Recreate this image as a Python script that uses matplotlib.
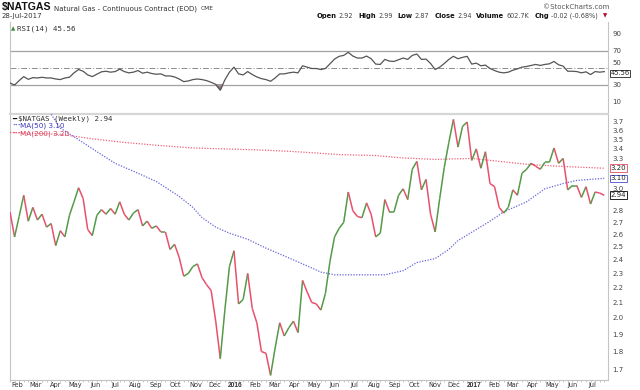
import numpy as np
import pandas as pd
import matplotlib
matplotlib.use("Agg")
import matplotlib.pyplot as plt
import matplotlib.dates as mdates
from matplotlib.collections import LineCollection
from matplotlib.offsetbox import TextArea, HPacker, AnchoredOffsetbox
from matplotlib.ticker import FixedLocator, NullLocator

# ---- data ----
first_week = "2015-01-30"
last_week = "2017-07-28"

close = [
    2.79, 2.58, 2.75, 2.94, 2.71, 2.83, 2.72, 2.77, 2.66, 2.69,
    2.51, 2.63, 2.58, 2.76, 2.88, 3.01, 2.91, 2.64, 2.59, 2.76,
    2.81, 2.77, 2.82, 2.77, 2.88, 2.77, 2.72, 2.78, 2.81, 2.67,
    2.71, 2.65, 2.67, 2.62, 2.62, 2.48, 2.52, 2.42, 2.28, 2.30,
    2.35, 2.37, 2.27, 2.22, 2.18, 1.98, 1.76, 2.05, 2.35, 2.47,
    2.09, 2.12, 2.30, 2.06, 1.97, 1.80, 1.79, 1.67, 1.82, 1.97,
    1.89, 1.94, 1.98, 1.91, 2.25, 2.17, 2.10, 2.09, 2.05, 2.16,
    2.39, 2.58, 2.65, 2.70, 2.97, 2.80, 2.75, 2.74, 2.87, 2.77,
    2.58, 2.61, 2.90, 2.79, 2.79, 2.94, 3.00, 2.90, 3.19, 3.27,
    2.99, 3.09, 2.77, 2.62, 2.91, 3.21, 3.47, 3.73, 3.42, 3.65,
    3.70, 3.28, 3.40, 3.20, 3.37, 3.05, 3.02, 2.83, 2.78, 2.83,
    2.99, 2.94, 3.15, 3.19, 3.25, 3.22, 3.19, 3.26, 3.26, 3.41,
    3.25, 3.30, 2.99, 3.03, 3.03, 2.92, 3.02, 2.86, 2.97, 2.96,
    2.94,
]

rsi = [
    32.2, 29.8, 35.0, 39.7, 36.5, 38.5, 38.1, 38.9, 38.1, 38.1,
    36.9, 36.2, 38.1, 38.9, 44.1, 48.0, 46.0, 41.7, 39.7, 42.5,
    45.3, 46.0, 44.9, 45.6, 48.4, 45.6, 44.1, 44.9, 46.8, 43.7,
    44.9, 43.3, 42.5, 42.9, 40.5, 40.5, 39.3, 36.9, 33.8, 34.6,
    36.2, 36.9, 36.2, 35.0, 33.0, 30.6, 23.9, 35.8, 44.9, 50.8,
    42.9, 41.7, 45.6, 42.1, 39.3, 37.3, 36.2, 34.2, 38.1, 42.9,
    42.9, 44.1, 44.9, 44.1, 52.4, 50.8, 49.2, 49.2, 48.0, 49.2,
    54.7, 60.3, 63.5, 64.6, 68.2, 63.8, 61.5, 61.5, 63.8, 60.7,
    54.4, 54.0, 59.9, 57.9, 57.5, 59.5, 61.5, 59.9, 64.6, 66.2,
    59.9, 60.3, 55.1, 48.0, 50.8, 55.1, 59.9, 63.5, 60.7, 62.3,
    63.5, 54.4, 55.5, 52.4, 53.2, 49.2, 46.8, 44.9, 44.1, 44.9,
    47.2, 48.8, 50.8, 51.6, 52.8, 54.0, 52.8, 54.0, 54.7, 57.5,
    53.6, 52.0, 46.0, 46.0, 45.6, 44.1, 45.3, 42.1, 45.6, 44.9,
    45.56,
]

ma50_dates = ["2015-04-03", "2015-04-17", "2015-05-15", "2015-06-19", "2015-07-10",
              "2015-08-14", "2015-09-11", "2015-10-16", "2015-11-06", "2015-11-20",
              "2015-12-11", "2016-01-01", "2016-01-29", "2016-02-26", "2016-03-25",
              "2016-04-22", "2016-05-20", "2016-06-10", "2016-07-15", "2016-08-26",
              "2016-09-23", "2016-10-14", "2016-11-11", "2016-12-02", "2016-12-16",
              "2017-01-13", "2017-02-03", "2017-02-24", "2017-03-31", "2017-04-28",
              "2017-05-26", "2017-06-16", "2017-07-28"]
ma50_vals = [3.79, 3.63, 3.50, 3.34, 3.25, 3.15, 3.07, 2.93, 2.83, 2.74,
             2.66, 2.61, 2.56, 2.49, 2.43, 2.37, 2.31, 2.29, 2.29, 2.29,
             2.32, 2.38, 2.41, 2.48, 2.55, 2.64, 2.71, 2.79, 2.88, 3.00,
             3.05, 3.08, 3.10]

ma200_dates = ["2015-01-30", "2015-04-17", "2015-06-05", "2015-07-24", "2015-09-11",
               "2015-11-06", "2015-12-25", "2016-02-12", "2016-04-01", "2016-05-06",
               "2016-06-17", "2016-08-12", "2016-09-23", "2016-11-11", "2017-01-06",
               "2017-02-03", "2017-03-31", "2017-05-19", "2017-07-28"]
ma200_vals = [3.58, 3.56, 3.51, 3.47, 3.44, 3.41, 3.40, 3.39, 3.375, 3.36,
              3.34, 3.33, 3.305, 3.29, 3.30, 3.28, 3.24, 3.22, 3.20]

price_ticks = [1.7, 1.8, 1.9, 2.0, 2.1, 2.2, 2.3, 2.4, 2.5, 2.6, 2.7, 2.8, 2.9,
               3.0, 3.1, 3.2, 3.3, 3.4, 3.5, 3.6, 3.7]
hidden_ticks = [2.9, 3.1, 3.2]   # sit under the value boxes
rsi_ticks = [10, 30, 50, 70, 90]
month_names = ["Jan", "Feb", "Mar", "Apr", "May", "Jun", "Jul", "Aug",
               "Sep", "Oct", "Nov", "Dec"]

GREEN = "#559a47"
RED = "#e8506e"
BLUE = "#6464dc"
PINK = "#ee6077"
FRAME = "#c4c4c4"

dates = pd.date_range(first_week, last_week, freq="7D")
xd = mdates.date2num(dates)
x_left = xd[0]
x_right = xd[-1] + 5.7

fig = plt.figure(figsize=(6.4, 3.9), dpi=100)
ax_r = fig.add_axes([10 / 640, 1 - 114 / 390, 598 / 640, 92 / 390])
ax = fig.add_axes([10 / 640, 1 - 380 / 390, 598 / 640, 266 / 390])

# ---- RSI panel ----
r = np.array(rsi)
ax_r.plot(xd, r, color="#555555", lw=0.9, zorder=3)
ax_r.fill_between(xd, r, 30, where=r < 30, interpolate=True, color="#a07a80", zorder=2)
ax_r.axhline(70, color="#a0a0a0", lw=0.9)
ax_r.axhline(30, color="#a0a0a0", lw=0.9)
ax_r.axhline(50, color="#8c8c8c", lw=0.7, ls=(0, (6, 2, 1, 2)))
ax_r.set_xlim(x_left, x_right)
ax_r.set_ylim(-4.2, 103.8)
ax_r.yaxis.tick_right()
ax_r.set_yticks(rsi_ticks)
# "50" is drawn by hand a little higher so it peeks out above the value box
ax_r.set_yticklabels(["" if t == 50 else str(t) for t in rsi_ticks])
ax_r.tick_params(axis="y", length=0, pad=3, labelsize=5, labelcolor="#444444")
ax_r.set_xticks([])
for s in ["top", "bottom"]:
    ax_r.spines[s].set_visible(False)
for s in ["left", "right"]:
    ax_r.spines[s].set_color(FRAME)
    ax_r.spines[s].set_linewidth(0.8)
ax_r.text(1.007, 56, "50", transform=ax_r.get_yaxis_transform(), ha="left",
          va="center", fontsize=5, color="#444444", clip_on=False, zorder=12)
ax_r.text(1.004, rsi[-1] - 2.0, f"{rsi[-1]:.2f}", transform=ax_r.get_yaxis_transform(),
          ha="left", va="center", fontsize=4.8, color="#222222", zorder=10, clip_on=False,
          bbox=dict(boxstyle="square,pad=0.1", fc="white", ec="#222222", lw=0.6))
ax_r.text(0.002, 0.93, "\u25b2", transform=ax_r.transAxes, fontsize=4, color="#3c8a3c",
          va="center", ha="left")
ax_r.text(0.012, 0.93, f"RSI(14) {rsi[-1]:.2f}", transform=ax_r.transAxes,
          family="DejaVu Sans Mono", fontsize=5.4, color="#333333", va="center", ha="left")

# ---- price panel ----
c = np.array(close)
pts = np.column_stack([xd, c])
segs = np.stack([pts[:-1], pts[1:]], axis=1)
seg_cols = [GREEN if c[i + 1] >= c[i] else RED for i in range(len(c) - 1)]
ax.add_collection(LineCollection(segs, colors=seg_cols, linewidths=1.1, zorder=4))

ax.plot(mdates.date2num(pd.to_datetime(ma50_dates)), ma50_vals, color=BLUE,
        lw=0.9, ls=(0, (1, 1.2)), zorder=3)
ax.plot(mdates.date2num(pd.to_datetime(ma200_dates)), ma200_vals, color=PINK,
        lw=0.9, ls=(0, (1, 1.2)), zorder=3)

ax.set_yscale("log")
ax.set_ylim(1.646, 3.794)
ax.set_xlim(x_left, x_right)
ax.yaxis.tick_right()
ax.yaxis.set_major_locator(FixedLocator(price_ticks))
ax.yaxis.set_minor_locator(NullLocator())
ax.set_yticklabels(["" if v in hidden_ticks else f"{v:.1f}" for v in price_ticks])
ax.tick_params(axis="y", length=0, pad=3, labelsize=5, labelcolor="#444444")

# month labels around the 10th of each month
months = pd.date_range("2015-02-01", "2017-07-01", freq="MS") + pd.Timedelta(days=9)
ax.set_xticks(mdates.date2num(months))
ax.set_xticklabels([str(m.year) if m.month == 1 else month_names[m.month - 1]
                    for m in months])
for lab, m in zip(ax.get_xticklabels(), months):
    if m.month == 1:
        lab.set_fontweight("bold")
        lab.set_family("Liberation Sans")
        lab.set_fontsize(6)
        lab.set_color("#111111")
ax.tick_params(axis="x", which="major", length=0, pad=1.5, labelsize=4.8,
               labelcolor="#333333")
ax.xaxis.set_minor_locator(FixedLocator(xd))
ax.tick_params(axis="x", which="minor", length=1.5, width=0.5, color="#b0b0b0")

for s in ["left", "right", "bottom"]:
    ax.spines[s].set_color(FRAME)
    ax.spines[s].set_linewidth(0.8)
ax.spines["top"].set_color("#d6d6d6")
ax.spines["top"].set_linewidth(1.6)

# value boxes on the right edge
for val, txt, ec in [(ma200_vals[-1], f"{ma200_vals[-1]:.2f}", PINK),
                     (ma50_vals[-1], f"{ma50_vals[-1]:.2f}", BLUE),
                     (close[-1], f"{close[-1]:.2f}", "#222222")]:
    ax.text(1.004, val, txt, transform=ax.get_yaxis_transform(), ha="left",
            va="center", fontsize=5, color="#222222", zorder=10, clip_on=False,
            bbox=dict(boxstyle="square,pad=0.12", fc="white", ec=ec, lw=0.7))

# legend block
ax.text(0.003, 0.981, "\u2501", transform=ax.transAxes, fontsize=5, color="#111111",
        va="center", ha="left")
ax.text(0.014, 0.981, f"$NATGAS (Weekly) {close[-1]:.2f}", transform=ax.transAxes,
        family="DejaVu Sans Mono", fontsize=5.4, color="#333333", va="center", ha="left")
ax.text(0.003, 0.954, "\u00b7\u00b7\u00b7", transform=ax.transAxes, fontsize=5.5,
        color=BLUE, va="center", ha="left", fontweight="bold")
ax.text(0.017, 0.954, f"MA(50) {ma50_vals[-1]:.2f}", transform=ax.transAxes,
        fontsize=5.2, color="#3a3ab8", va="center", ha="left")
ax.text(0.003, 0.925, "\u00b7\u00b7\u00b7", transform=ax.transAxes, fontsize=5.5,
        color=PINK, va="center", ha="left", fontweight="bold")
ax.text(0.017, 0.925, f"MA(200) {ma200_vals[-1]:.2f}", transform=ax.transAxes,
        fontsize=5.2, color="#d8405a", va="center", ha="left")

# ---- header ----
head = HPacker(children=[
    TextArea("$NATGAS", textprops=dict(fontsize=7.6, fontweight="bold", color="#111111",
                                       family="Liberation Sans")),
    TextArea("Natural Gas - Continuous Contract (EOD)",
             textprops=dict(fontsize=5, color="#333333")),
    TextArea("CME", textprops=dict(fontsize=4.2, color="#333333")),
], align="baseline", pad=0, sep=2.5)
fig.add_artist(AnchoredOffsetbox(loc="center left", child=head, pad=0, borderpad=0,
                                 frameon=False, bbox_to_anchor=(1.5 / 640, 1 - 7 / 390),
                                 bbox_transform=fig.transFigure))
fig.text(1.5 / 640, 1 - 16 / 390, "28-Jul-2017", fontsize=5, color="#333333",
         va="center", ha="left")
fig.text(609 / 640, 1 - 7 / 390, "\u00a9StockCharts.com", fontsize=5, color="#555555",
         va="center", ha="right")

stats = [("Open", "2.92"), ("High", "2.99"), ("Low", "2.87"), ("Close", "2.94"),
         ("Volume", "602.7K"), ("Chg", "-0.02 (-0.68%)")]
groups = []
for lab, val in stats:
    groups.append(HPacker(children=[
        TextArea(lab, textprops=dict(fontsize=4.9, fontweight="bold", color="#111111")),
        TextArea(val, textprops=dict(fontsize=4.7, color="#444444")),
    ], align="baseline", pad=0, sep=1.6))
groups.append(TextArea("\u25bc", textprops=dict(fontsize=4, color="#b01030")))
stat_box = HPacker(children=groups, align="baseline", pad=0, sep=3.5)
fig.add_artist(AnchoredOffsetbox(loc="center right", child=stat_box, pad=0, borderpad=0,
                                 frameon=False, bbox_to_anchor=(607 / 640, 1 - 16 / 390),
                                 bbox_transform=fig.transFigure))

fig.savefig("out.png", dpi=100)
